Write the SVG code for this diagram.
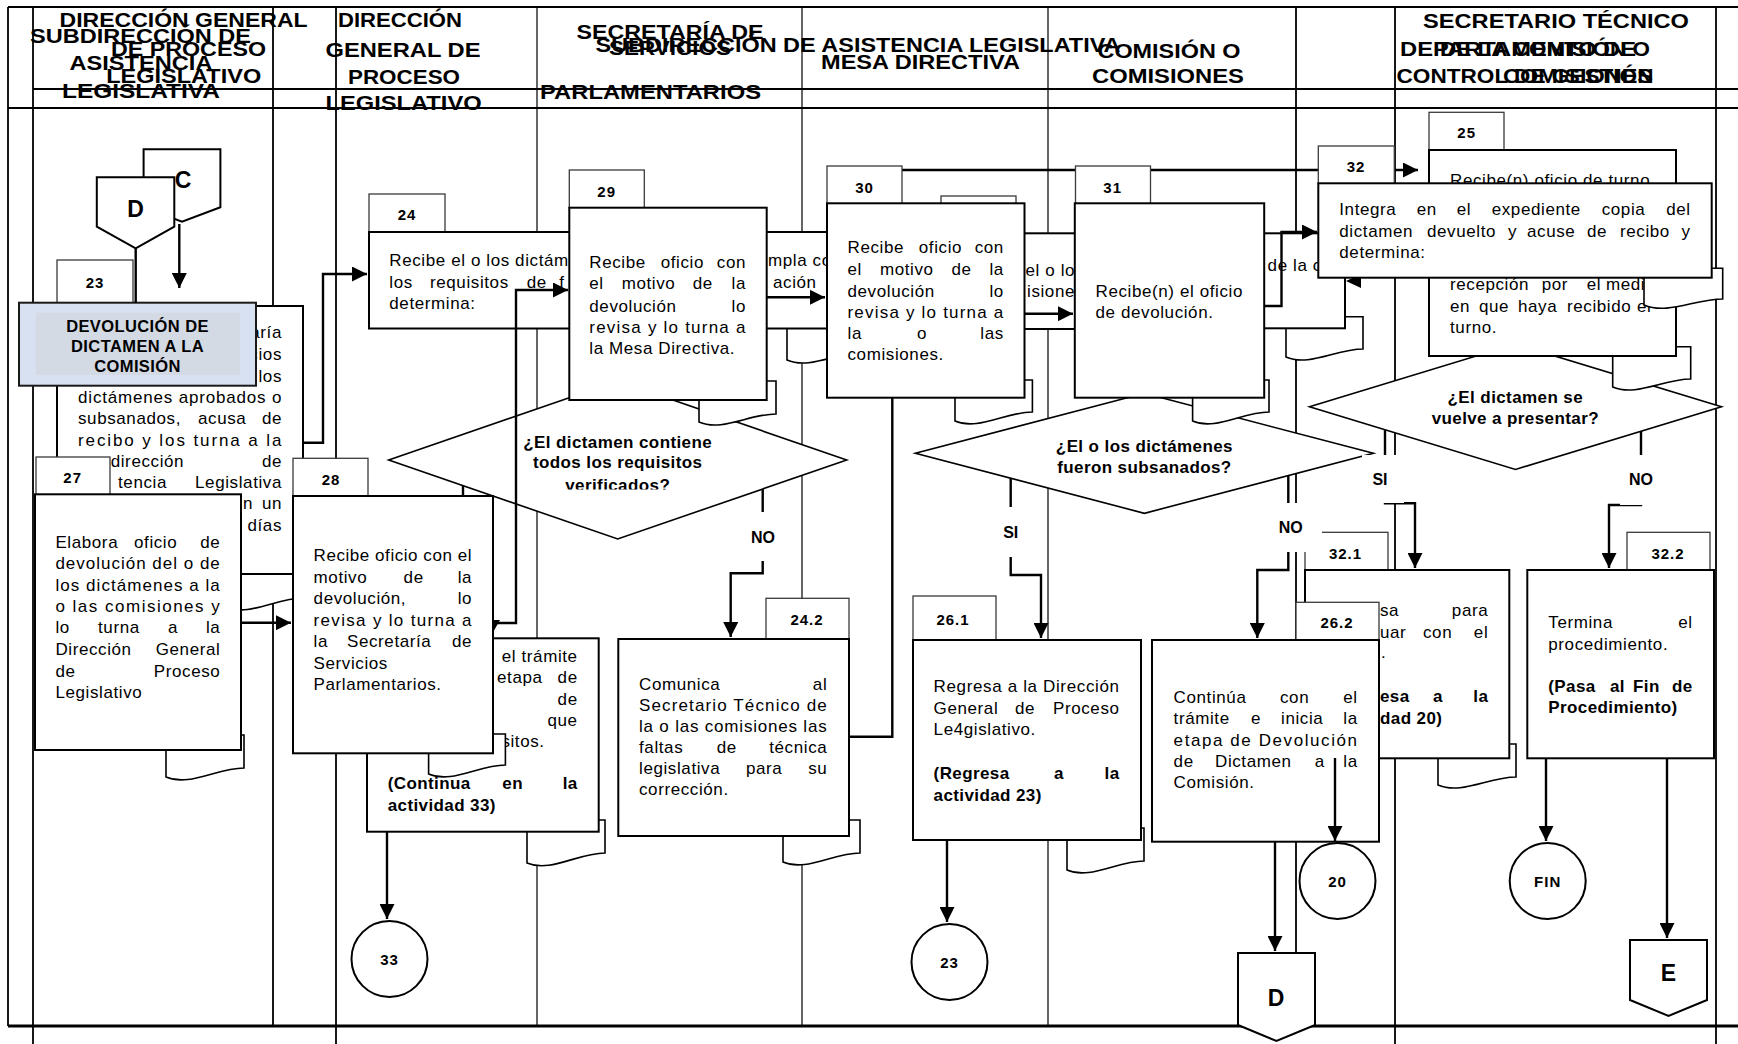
<svg xmlns="http://www.w3.org/2000/svg" width="1738" height="1044" viewBox="0 0 1738 1044">
<style>
.ln{stroke:#000;stroke-width:1.8;fill:none}
.lt{stroke:#000;stroke-width:1.2;fill:none}
.bx{fill:#fff;stroke:#000;stroke-width:2}
.tb{fill:#fff;stroke:#3a3a3a;stroke-width:1.3}
.dc{fill:#fff;stroke:#000;stroke-width:1.6}
.dm{fill:#fff;stroke:#000;stroke-width:1.6}
.cn{fill:none;stroke:#000;stroke-width:2.4}
.ca{fill:none;stroke:#000;stroke-width:2.4;marker-end:url(#ah)}
.wb{fill:#fff;stroke:none}
text{font-family:"Liberation Sans",Arial,Helvetica,sans-serif;fill:#000}
.t{font-size:17px;letter-spacing:0.6px}
.b{font-size:17px;font-weight:bold;letter-spacing:0.4px}
.e{text-anchor:end}
.m{text-anchor:middle}
.n{font-size:15px;font-weight:bold;text-anchor:middle;letter-spacing:1px}
.h{font-size:19.5px;font-weight:bold;text-anchor:middle}
.lb{font-size:16px;font-weight:bold;text-anchor:middle}
.big{font-size:23px;font-weight:bold;text-anchor:middle}
</style>
<defs>
<marker id="ah" viewBox="0 0 10 10" refX="10" refY="5" markerWidth="15" markerHeight="15" markerUnits="userSpaceOnUse" orient="auto"><path d="M0,0 L10,5 L0,10 z" fill="#000"/></marker>
<clipPath id="cq"><rect x="380" y="380" width="480" height="109.5"/></clipPath>
</defs>

<!-- frame and swimlanes -->
<g id="lanes">
<path class="ln" d="M8 7H1738M33 89H1738M8 108H1738"/>
<path d="M8 1026H1738" stroke="#000" stroke-width="3"/>
<path class="ln" d="M8 7V1026M33 7V1044M273 7V1026M336 7V1044M1296 7V1026M1395 7V1044M1716 7V1044"/>
<path class="lt" d="M537 7V1026M802 7V1026M1048 7V1026"/>
</g>

<g id="lane-titles">
<text class="h" x="183.6" y="27" textLength="248" lengthAdjust="spacingAndGlyphs">DIRECCIÓN GENERAL</text>
<text class="h" x="188.5" y="55.5" textLength="155" lengthAdjust="spacingAndGlyphs">DE PROCESO</text>
<text class="h" x="183.7" y="83" textLength="155" lengthAdjust="spacingAndGlyphs">LEGISLATIVO</text>
<text class="h" x="140.5" y="43" textLength="221" lengthAdjust="spacingAndGlyphs">SUBDIRECCIÓN DE</text>
<text class="h" x="141" y="69.5" textLength="143" lengthAdjust="spacingAndGlyphs">ASISTENCIA</text>
<text class="h" x="141" y="98" textLength="158" lengthAdjust="spacingAndGlyphs">LEGISLATIVA</text>
<text class="h" x="400" y="27" textLength="124" lengthAdjust="spacingAndGlyphs">DIRECCIÓN</text>
<text class="h" x="403" y="56.5" textLength="155" lengthAdjust="spacingAndGlyphs">GENERAL DE</text>
<text class="h" x="404" y="83.5" textLength="112" lengthAdjust="spacingAndGlyphs">PROCESO</text>
<text class="h" x="403.6" y="110" textLength="156" lengthAdjust="spacingAndGlyphs">LEGISLATIVO</text>
<text class="h" x="670" y="39" textLength="187" lengthAdjust="spacingAndGlyphs">SECRETARÍA DE</text>
<text class="h" x="670" y="55" textLength="122" lengthAdjust="spacingAndGlyphs">SERVICIOS</text>
<text class="h" x="650.5" y="99" textLength="221" lengthAdjust="spacingAndGlyphs">PARLAMENTARIOS</text>
<text class="h" x="858" y="51.5" textLength="525" lengthAdjust="spacingAndGlyphs">SUBDIRECCIÓN DE ASISTENCIA LEGISLATIVA</text>
<text class="h" x="920.5" y="68.5" textLength="199" lengthAdjust="spacingAndGlyphs">MESA DIRECTIVA</text>
<text class="h" x="1169" y="57.5" textLength="143" lengthAdjust="spacingAndGlyphs">COMISIÓN O</text>
<text class="h" x="1168" y="83" textLength="152" lengthAdjust="spacingAndGlyphs">COMISIONES</text>
<text class="h" x="1556" y="28" textLength="266" lengthAdjust="spacingAndGlyphs">SECRETARIO TÉCNICO</text>
<text class="h" x="1518" y="56" textLength="236" lengthAdjust="spacingAndGlyphs">DEPARTAMENTO DE</text>
<text class="h" x="1545" y="56" textLength="210" lengthAdjust="spacingAndGlyphs">DE LA COMISIÓN O</text>
<text class="h" x="1525" y="82.5" textLength="257" lengthAdjust="spacingAndGlyphs">CONTROL DE GESTIÓN</text>
<text class="h" x="1578" y="82.5" textLength="150" lengthAdjust="spacingAndGlyphs">COMISIONES</text>
</g>

<!-- lines running underneath the activity boxes -->
<g id="connectors-back">
<path class="ca" d="M880 170H1418"/>
<polygon points="1346,281 1361,274 1361,288" fill="#000"/>
<polygon points="484,620 500,620 492,634" fill="#000"/>
<path class="cn" d="M463 480V497"/>
</g>

<g id="connector-C">
<polygon class="bx" points="143.6,149.3 220.4,149.3 220.4,207.3 182,221.7 143.6,207.3"/>
<text class="big" x="183" y="188.3">C</text>
</g>
<g id="connector-D-top">
<polygon class="bx" points="96.8,177.3 174.3,177.3 174.3,226.7 135.7,248.3 96.8,226.7"/>
<text class="big" x="135.5" y="216.7">D</text>
</g>

<g id="act-23">
<path class="dc" d="M226 540H303V598C276 598 249 617 226 607Z"/>
<rect class="tb" x="57" y="260" width="76" height="46"/>
<rect class="bx" x="57" y="306" width="246" height="268"/>
<text class="n" x="95" y="288">23</text>
<text class="t e" x="282" y="338.3">aría</text>
<text class="t e" x="282" y="360">cios</text>
<text class="t e" x="282" y="381.7">los</text>
<text class="t" x="78" y="402.7" textLength="204" lengthAdjust="spacing">dictámenes aprobados o</text>
<text class="t" x="78" y="424">subsanados,</text><text class="t" x="198" y="424">acusa</text><text class="t e" x="282" y="424">de</text>
<text class="t" x="78" y="446" textLength="204" lengthAdjust="spacing">recibo y los turna a la</text>
<text class="t" x="110.7" y="466.7">dirección</text><text class="t e" x="282" y="466.7">de</text>
<text class="t" x="118" y="488.3">tencia</text><text class="t e" x="282" y="488.3">Legislativa</text>
<text class="t" x="243" y="509.3">n</text><text class="t e" x="282" y="509.3">un</text>
<text class="t e" x="282" y="530.7">días</text>
</g>

<g id="stage-title">
<rect x="19" y="302.7" width="237" height="83" fill="#d8e1f1" stroke="#1a1a1a" stroke-width="2"/>
<rect x="35.7" y="312.7" width="204.3" height="62.3" fill="#d4dae4"/>
<text class="b m" x="137.5" y="331.7" style="font-size:16.5px">DEVOLUCIÓN DE</text>
<text class="b m" x="137.5" y="352.3" style="font-size:16.5px">DICTAMEN A LA</text>
<text class="b m" x="137.5" y="372.3" style="font-size:16.5px">COMISIÓN</text>
</g>

<g id="act-24">
<path class="dc" d="M787 300H864V352C837 352 810 370 787 360Z"/>
<rect class="tb" x="369" y="194" width="76" height="38"/>
<rect class="bx" x="369" y="232" width="461" height="96.5"/>
<text class="n" x="407" y="220">24</text>
<text class="t" x="389.3" y="265.7">Recibe el o los dictám</text>
<text class="t" x="389.3" y="287.7">los</text><text class="t" x="430" y="287.7">requisitos</text><text class="t" x="526.7" y="287.7">de</text><text class="t" x="559.3" y="287.7">f</text>
<text class="t" x="389.3" y="309">determina:</text>
<text class="t" x="768" y="265.7">mpla co</text>
<text class="t" x="773" y="287.7">ación</text>
</g>

<g id="act-mesa">
<rect class="tb" x="941" y="196" width="75" height="38"/>
<rect class="bx" x="990" y="233.3" width="120" height="95.7"/>
<text class="t" x="1025.5" y="275.7">el o lo</text>
<text class="t" x="1027" y="296.7">isione</text>
</g>

<g id="act-comision">
<path class="dc" d="M1286 316.7H1363V349C1336 349 1309 367 1286 357Z"/>
<rect class="bx" x="1240" y="233.3" width="105" height="95"/>
<text class="t" x="1267.6" y="271">de la c</text>
</g>

<g id="decision-32">
<polygon class="dm" points="1515.5,344 1721.5,406.7 1515.5,469.4 1309.5,406.7"/>
<text class="b m" x="1515.3" y="402.7">¿El dictamen se</text>
<text class="b m" x="1515.3" y="424">vuelve a presentar?</text>
</g>

<g id="act-25">
<path class="dc" d="M1612.7 346.7H1690.7V379C1663.4 379 1636 397 1612.7 387Z"/>
<rect class="tb" x="1429" y="112.3" width="75" height="38"/>
<rect class="bx" x="1429" y="150" width="247" height="206"/>
<text class="n" x="1466.7" y="138.3">25</text>
<text class="t" x="1450" y="185.5">Recibe(n) oficio de turno</text>
<text class="t" x="1450" y="290">recepción</text><text class="t" x="1541.7" y="290">por</text><text class="t" x="1586.7" y="290">el</text><text class="t" x="1606" y="290">medi</text>
<text class="t" x="1450" y="311.7">en</text><text class="t" x="1479" y="311.7">que</text><text class="t" x="1518" y="311.7">haya</text><text class="t" x="1567" y="311.7">recibido</text><text class="t" x="1637" y="311.7">el</text>
<text class="t" x="1450" y="333.3">turno.</text>
</g>

<g id="act-32">
<path class="dc" d="M1644 268.3H1722.7V299C1695.2 299 1667.6 315 1644 305Z"/>
<rect class="tb" x="1318.3" y="146" width="76" height="38"/>
<rect class="bx" x="1318.3" y="183.3" width="393.4" height="94.4"/>
<text class="n" x="1356" y="171.7">32</text>
<text class="t" x="1339.3" y="215">Integra</text><text class="t" x="1416.7" y="215">en</text><text class="t" x="1456.7" y="215">el</text><text class="t" x="1491.7" y="215">expediente</text><text class="t" x="1601.7" y="215">copia</text><text class="t e" x="1690.7" y="215">del</text>
<text class="t" x="1339.3" y="236.7">dictamen</text><text class="t" x="1427" y="236.7">devuelto</text><text class="t" x="1508" y="236.7">y</text><text class="t" x="1527" y="236.7">acuse</text><text class="t" x="1587" y="236.7">de</text><text class="t" x="1620" y="236.7">recibo</text><text class="t e" x="1690.7" y="236.7">y</text>
<text class="t" x="1339.3" y="257.7">determina:</text>
</g>

<g id="decision-26">
<polygon class="dm" points="1144.4,393.3 1373.4,453.3 1144.4,513.3 915.4,453.3"/>
<text class="b m" x="1144.4" y="451.7">¿El o los dictámenes</text>
<text class="b m" x="1144.4" y="472.7">fueron subsanados?</text>
</g>

<g id="act-31">
<path class="dc" d="M1192.6 380H1269V412C1242 412 1215.5 431 1192.6 421Z"/>
<rect class="tb" x="1075.5" y="166" width="75" height="38"/>
<rect class="bx" x="1074.8" y="203.3" width="189.4" height="194.4"/>
<text class="n" x="1112.7" y="193.3">31</text>
<text class="t" x="1095.5" y="296.7">Recibe(n) el oficio</text>
<text class="t" x="1095.5" y="318.3">de devolución.</text>
</g>

<g id="act-30">
<path class="dc" d="M955 380H1032.4V412C1005 412 978 431 955 421Z"/>
<rect class="tb" x="827" y="166" width="75" height="38"/>
<rect class="bx" x="827" y="203.3" width="197.5" height="194.4"/>
<text class="n" x="864.6" y="193.3">30</text>
<text class="t" x="847.5" y="253.3">Recibe</text><text class="t" x="918.8" y="253.3">oficio</text><text class="t e" x="1003.9" y="253.3">con</text>
<text class="t" x="847.5" y="275">el</text><text class="t" x="879.9" y="275">motivo</text><text class="t" x="951.5" y="275">de</text><text class="t e" x="1003.9" y="275">la</text>
<text class="t" x="847.5" y="296.7">devolución</text><text class="t e" x="1003.9" y="296.7">lo</text>
<text class="t" x="847.5" y="317.7" textLength="156.4" lengthAdjust="spacing">revisa y lo turna a</text>
<text class="t" x="847.5" y="339">la</text><text class="t" x="917" y="339">o</text><text class="t e" x="1003.9" y="339">las</text>
<text class="t" x="847.5" y="360">comisiones.</text>
</g>

<g id="decision-24">
<polygon class="dm" points="617.7,381 846.7,460 617.7,539 388.7,460"/>
<text class="b m" x="617.7" y="447.7">¿El dictamen contiene</text>
<text class="b m" x="617.7" y="468.3">todos los requisitos</text>
<text class="b m" x="617.7" y="490.5" clip-path="url(#cq)">verificados?</text>
</g>

<g id="act-29">
<path class="dc" d="M699 381H776V414C749 414 722 432 699 422Z"/>
<rect class="tb" x="569.3" y="170" width="75" height="38"/>
<rect class="bx" x="569.3" y="207.7" width="197.4" height="192.3"/>
<text class="n" x="606.7" y="196.7">29</text>
<text class="t" x="589.3" y="267.7">Recibe</text><text class="t" x="660.7" y="267.7">oficio</text><text class="t e" x="746" y="267.7">con</text>
<text class="t" x="589.3" y="289.3">el</text><text class="t" x="621.7" y="289.3">motivo</text><text class="t" x="692.7" y="289.3">de</text><text class="t e" x="746" y="289.3">la</text>
<text class="t" x="589.3" y="311.7">devolución</text><text class="t e" x="746" y="311.7">lo</text>
<text class="t" x="589.3" y="332.7" textLength="156.7" lengthAdjust="spacing">revisa y lo turna a</text>
<text class="t" x="589.3" y="354.3">la Mesa Directiva.</text>
</g>

<g id="act-continua-33">
<path class="dc" d="M527 820H605V853C577.7 853 550.4 873 527 863Z"/>
<rect class="bx" x="367" y="638.3" width="231.7" height="193.4"/>
<text class="t e" x="577.7" y="661.7">el trámite</text>
<text class="t" x="497" y="682.7">etapa</text><text class="t e" x="577.7" y="682.7">de</text>
<text class="t e" x="577.7" y="705">de</text>
<text class="t e" x="577.7" y="726">que</text>
<text class="t" x="497" y="747.3">isitos.</text>
<text class="b" x="387.7" y="789.3">(Continua</text><text class="b" x="502.3" y="789.3">en</text><text class="b e" x="577.7" y="789.3">la</text>
<text class="b" x="387.7" y="811">actividad 33)</text>
</g>

<g id="act-27">
<path class="dc" d="M166 735H244V768C216.7 768 189.4 787 166 777Z"/>
<rect class="tb" x="36" y="457" width="74" height="38"/>
<rect class="bx" x="35" y="494.3" width="206" height="255.7"/>
<text class="n" x="72.7" y="483.3">27</text>
<text class="t" x="55.4" y="548.3">Elabora</text><text class="t" x="134" y="548.3">oficio</text><text class="t e" x="220.4" y="548.3">de</text>
<text class="t" x="55.4" y="569.3" textLength="165" lengthAdjust="spacing">devolución del o de</text>
<text class="t" x="55.4" y="590.7" textLength="165" lengthAdjust="spacing">los dictámenes a la</text>
<text class="t" x="55.4" y="612.3" textLength="165" lengthAdjust="spacing">o las comisiones y</text>
<text class="t" x="55.4" y="633.3">lo</text><text class="t" x="98" y="633.3">turna</text><text class="t" x="168" y="633.3">a</text><text class="t e" x="220.4" y="633.3">la</text>
<text class="t" x="55.4" y="655">Dirección</text><text class="t e" x="220.4" y="655">General</text>
<text class="t" x="55.4" y="676.7">de</text><text class="t e" x="220.4" y="676.7">Proceso</text>
<text class="t" x="55.4" y="697.7">Legislativo</text>
</g>

<g id="act-28">
<path class="dc" d="M428.6 734H505.4V765C478.5 765 451.7 784 428.6 774Z"/>
<rect class="tb" x="293" y="458.3" width="75" height="38"/>
<rect class="bx" x="293" y="496" width="200" height="257.3"/>
<text class="n" x="331" y="485">28</text>
<text class="t" x="313.6" y="560.7" textLength="158.5" lengthAdjust="spacing">Recibe oficio con el</text>
<text class="t" x="313.6" y="582.7">motivo</text><text class="t" x="403.6" y="582.7">de</text><text class="t e" x="472.1" y="582.7">la</text>
<text class="t" x="313.6" y="604.3">devolución,</text><text class="t e" x="472.1" y="604.3">lo</text>
<text class="t" x="313.6" y="625.7" textLength="158.5" lengthAdjust="spacing">revisa y lo turna a</text>
<text class="t" x="313.6" y="647.3">la</text><text class="t" x="347" y="647.3">Secretaría</text><text class="t e" x="472.1" y="647.3">de</text>
<text class="t" x="313.6" y="669.3">Servicios</text>
<text class="t" x="313.6" y="690">Parlamentarios.</text>
</g>

<g id="act-24-2">
<path class="dc" d="M783 820H860V853C833 853 806 872 783 862Z"/>
<rect class="tb" x="766" y="598.3" width="83" height="41"/>
<rect class="bx" x="618.3" y="639" width="230.7" height="197"/>
<text class="n" x="807" y="625">24.2</text>
<text class="t" x="639" y="690">Comunica</text><text class="t e" x="827.3" y="690">al</text>
<text class="t" x="639" y="711" textLength="188.3" lengthAdjust="spacing">Secretario Técnico de</text>
<text class="t" x="639" y="732.3" textLength="188.3" lengthAdjust="spacing">la o las comisiones las</text>
<text class="t" x="639" y="753.3">faltas</text><text class="t" x="716.7" y="753.3">de</text><text class="t e" x="827.3" y="753.3">técnica</text>
<text class="t" x="639" y="774.3">legislativa</text><text class="t" x="746" y="774.3">para</text><text class="t e" x="827.3" y="774.3">su</text>
<text class="t" x="639" y="795">corrección.</text>
</g>

<g id="act-26-1">
<path class="dc" d="M1067 828H1144V861C1117 861 1090 880 1067 870Z"/>
<rect class="tb" x="913" y="596" width="83" height="44"/>
<rect class="bx" x="913" y="640" width="228" height="200"/>
<text class="n" x="953" y="625">26.1</text>
<text class="t" x="933.6" y="692.3" textLength="186" lengthAdjust="spacing">Regresa a la Dirección</text>
<text class="t" x="933.6" y="714">General</text><text class="t" x="1015" y="714">de</text><text class="t e" x="1119.6" y="714">Proceso</text>
<text class="t" x="933.6" y="735">Le4gislativo.</text>
<text class="b" x="933.6" y="779.3">(Regresa</text><text class="b" x="1054" y="779.3">a</text><text class="b e" x="1119.6" y="779.3">la</text>
<text class="b" x="933.6" y="801">actividad 23)</text>
</g>

<g id="act-32-1">
<path class="dc" d="M1438 744H1516V777C1488.7 777 1461.4 795 1438 785Z"/>
<rect class="tb" x="1305" y="532.3" width="83" height="38"/>
<rect class="bx" x="1305" y="570" width="204.3" height="188.3"/>
<text class="n" x="1345.5" y="559">32.1</text>
<text class="t" x="1380" y="616">sa</text><text class="t e" x="1488.3" y="616">para</text>
<text class="t" x="1380" y="637.7">uar</text><text class="t" x="1423" y="637.7">con</text><text class="t e" x="1488.3" y="637.7">el</text>
<text class="t" x="1381" y="658">.</text>
<text class="b" x="1380" y="701.7">esa</text><text class="b" x="1433" y="701.7">a</text><text class="b e" x="1488.3" y="701.7">la</text>
<text class="b" x="1380" y="724">dad 20)</text>
</g>

<g id="act-26-2">
<rect class="tb" x="1296" y="602.3" width="83" height="38"/>
<rect class="bx" x="1152" y="640" width="227" height="201.7"/>
<text class="n" x="1337" y="628.3">26.2</text>
<text class="t" x="1173.6" y="703.3">Continúa</text><text class="t" x="1280" y="703.3">con</text><text class="t e" x="1357.7" y="703.3">el</text>
<text class="t" x="1173.6" y="724.3">trámite</text><text class="t" x="1251" y="724.3">e</text><text class="t" x="1281" y="724.3">inicia</text><text class="t e" x="1357.7" y="724.3">la</text>
<text class="t" x="1173.6" y="745.7" textLength="184" lengthAdjust="spacing">etapa de Devolución</text>
<text class="t" x="1173.6" y="766.7">de</text><text class="t" x="1215" y="766.7">Dictamen</text><text class="t" x="1314.8" y="766.7">a</text><text class="t e" x="1357.7" y="766.7">la</text>
<text class="t" x="1173.6" y="787.7">Comisión.</text>
</g>

<g id="act-32-2">
<rect class="tb" x="1627" y="532.3" width="83" height="38"/>
<rect class="bx" x="1527.3" y="570" width="186.7" height="188.3"/>
<text class="n" x="1668" y="559">32.2</text>
<text class="t" x="1548.3" y="628.3">Termina</text><text class="t e" x="1692.7" y="628.3">el</text>
<text class="t" x="1548.3" y="650">procedimiento.</text>
<text class="b" x="1548.3" y="691.7">(Pasa</text><text class="b" x="1610" y="691.7">al</text><text class="b" x="1633" y="691.7">Fin</text><text class="b e" x="1692.7" y="691.7">de</text>
<text class="b" x="1548.3" y="713.3">Procedimiento)</text>
</g>

<g id="ref-33"><circle class="bx" cx="389.5" cy="959" r="38"/><text class="n" x="389.5" y="964.5">33</text></g>
<g id="ref-23"><circle class="bx" cx="949.5" cy="962" r="38"/><text class="n" x="949.5" y="967.5">23</text></g>
<g id="ref-20"><circle class="bx" cx="1337.5" cy="881" r="38"/><text class="n" x="1337.5" y="886.5">20</text></g>
<g id="end-fin"><circle class="bx" cx="1547.7" cy="881" r="38"/><text class="n" x="1547.7" y="886.5">FIN</text></g>
<g id="connector-D-bottom">
<polygon class="bx" points="1238,953 1315,953 1315,1025 1276.5,1041 1238,1025"/>
<text class="big" x="1276" y="1006">D</text>
</g>
<g id="connector-E">
<polygon class="bx" points="1630,940 1707,940 1707,1000 1668.5,1016 1630,1000"/>
<text class="big" x="1668.5" y="980.5">E</text>
</g>

<g id="connectors">
<path class="ca" d="M179.3 224V288"/>
<path class="cn" d="M135.7 248V303"/>
<path class="ca" d="M303 442.7H323V274H367"/>
<path class="ca" d="M241 622.7H291"/>
<path class="ca" d="M493 623H516V290H568"/>
<path class="ca" d="M767 297.3H825"/>
<path class="ca" d="M1024.5 313.7H1073"/>
<path class="ca" d="M1264 306H1281.5V232H1317"/>
<path class="ca" d="M762.7 489V573.3H730.7V637"/>
<path class="cn" d="M849 736.7H892.3V398"/>
<path class="ca" d="M1010.7 478V575H1041V638"/>
<path class="ca" d="M1288.3 476V570H1257.3V638"/>
<path class="ca" d="M1385 430V503.3H1415V568"/>
<path class="ca" d="M1641 431V505H1609V568"/>
<path class="ca" d="M1335 758V841"/>
<path class="ca" d="M1275 842V951"/>
<path class="ca" d="M947 840V922"/>
<path class="ca" d="M387 832V919"/>
<path class="ca" d="M1546 758V841"/>
<path class="ca" d="M1667 758V938"/>
<rect class="wb" x="742" y="512" width="42" height="49"/><text class="lb" x="763" y="543">NO</text>
<rect class="wb" x="992" y="507" width="38" height="50"/><text class="lb" x="1010.7" y="538.3">SI</text>
<rect class="wb" x="1272" y="503" width="50" height="49"/><text class="lb" x="1290.7" y="533.3">NO</text>
<rect class="wb" x="1362" y="455" width="42" height="48"/><text class="lb" x="1380" y="485">SI</text>
<rect class="wb" x="1620" y="455" width="44" height="50"/><text class="lb" x="1641" y="485">NO</text>
</g>
</svg>
